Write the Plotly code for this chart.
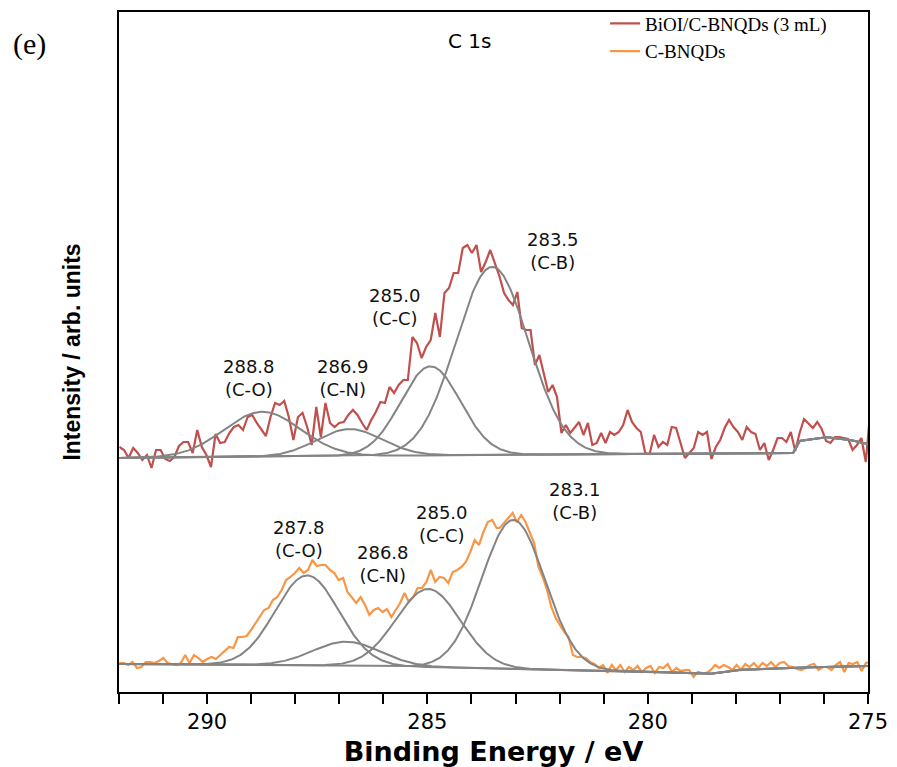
import numpy as np
import plotly.graph_objects as go

# ---------------- data ----------------
# BiOI/C-BNQDs (3 mL) raw C 1s spectrum (arb. units), two read segments
red_seg1 = [244, 241, 233, 243, 238, 231, 236, 223, 241, 241,
            232, 230, 234, 245, 249, 249, 238, 261, 244, 236,
            224, 257, 248, 249, 258, 264, 266, 261, 274, 276,
            268, 261, 255, 274, 288, 286, 290, 274, 251, 274,
            278, 264, 246, 284, 254, 288, 268, 264, 268, 269,
            276, 281, 276, 268, 261, 271, 279, 289, 288, 304,
            298, 306, 311, 311, 354, 348, 333, 344, 351, 378,
            354, 398, 403, 418, 418, 443, 446, 438, 446, 419,
            429, 441, 428]
red_seg2 = [414, 398, 391, 386, 399, 363, 361, 361, 326, 336,
            318, 299, 306, 294, 258, 266, 258, 264, 269, 256,
            268, 246, 248, 258, 248, 259, 256, 259, 266, 281,
            269, 263, 259, 238, 237, 256, 244, 249, 246, 264,
            263, 248, 233, 238, 243, 259, 256, 259, 232, 244,
            251, 263, 271, 264, 259, 251, 264, 259, 257, 241,
            248, 231, 241, 253, 253, 249, 259, 240, 258, 272,
            267, 263, 269, 262, 250, 248, 254, 254, 253, 252,
            241, 246, 253, 229, 279]
red_seg_be = [(291.99, 283.47), (283.36, 274.95)]

# C-BNQDs raw C 1s spectrum (arb. units)
orange_seg1 = [28, 28, 26, 29, 23, 24, 29, 29, 28, 30,
               33, 28, 27, 26, 28, 36, 28, 36, 33, 29,
               32, 34, 32, 36, 39, 44, 43, 54, 54, 55,
               61, 68, 74, 81, 83, 91, 94, 101, 111, 114,
               118, 123, 118, 121, 131, 125, 126, 126, 121, 118,
               111, 113, 99, 93, 88, 94, 86, 76, 81, 83,
               79, 82, 74, 81, 88, 98, 89, 94, 103, 103,
               109, 121, 109, 114, 113, 108, 119, 121, 124, 129,
               139, 151, 146, 159, 169, 171, 163]
orange_seg2 = [163, 168, 173, 178, 169, 176, 169, 159, 148, 124,
               114, 101, 84, 73, 66, 59, 54, 36, 34, 34,
               33, 29, 27, 23, 26, 18, 26, 21, 26, 19,
               24, 21, 25, 19, 23, 25, 18, 24, 23, 27,
               19, 23, 20, 21, 21, 14, 19, 18, 18, 21,
               26, 23, 26, 24, 21, 26, 21, 27, 24, 28,
               23, 28, 25, 29, 24, 28, 29, 25, 24, 22,
               21, 23, 26, 27, 21, 24, 24, 21, 26, 29,
               19, 28, 27, 29, 20, 28, 29]
orange_seg_be = [(291.99, 283.43), (283.36, 274.95)]

# fitted components: peak labels, centres (eV), heights, FWHM (eV)
top_labels = ["288.8<br>(C-O)", "286.9<br>(C-N)", "285.0<br>(C-C)", "283.5<br>(C-B)"]
top_centers = [288.75, 286.77, 284.93, 283.53]
top_heights = [45, 27, 89, 188]
top_fwhm = [2.05, 1.74, 1.59, 1.93]
top_bg_be = [292.0, 284.0, 276.7, 276.55, 276.0, 275.5, 275.0]
top_bg_val = [233, 236, 238, 250, 254, 252, 247]
top_label_be = [289.05, 286.91, 285.73, 282.15]
top_label_val = [313, 313, 384, 440]

bot_labels = ["287.8<br>(C-O)", "286.8<br>(C-N)", "285.0<br>(C-C)", "283.1<br>(C-B)"]
bot_centers = [287.73, 286.84, 284.98, 283.05]
bot_heights = [90, 24, 78, 149]
bot_fwhm = [1.70, 1.80, 1.72, 1.68]
bot_bg_be = [292.0, 286.0, 283.0, 281.0, 279.5, 278.6, 278.0, 277.0, 275.0]
bot_bg_val = [27, 25, 22, 20, 19, 17, 21, 23, 25]
bot_label_be = [287.91, 286.0, 284.67, 281.65]
bot_label_val = [152, 127, 167, 190]

x_ticks = list(range(275, 293))
x_tick_labels = [str(v) if v % 5 == 0 else "" for v in x_ticks]

RED = "#C0504D"
ORANGE = "#F79646"
GRAY = "#848484"


def seg_energy(segs, bounds):
    return np.concatenate([np.linspace(b[0], b[1], len(s)) for s, b in zip(segs, bounds)])


red_be = seg_energy([red_seg1, red_seg2], red_seg_be)
red_val = np.array(red_seg1 + red_seg2)
orange_be = seg_energy([orange_seg1, orange_seg2], orange_seg_be)
orange_val = np.array(orange_seg1 + orange_seg2)

fig = go.Figure()
fig.add_trace(go.Scatter(x=red_be, y=red_val, mode="lines",
                         line=dict(color=RED, width=2.2),
                         name="BiOI/C-BNQDs (3 mL)"))
fig.add_trace(go.Scatter(x=orange_be, y=orange_val, mode="lines",
                         line=dict(color=ORANGE, width=2.2),
                         name="C-BNQDs"))

grid = np.linspace(292, 275, 681)


def add_components(centers, heights, fwhm, bg_be, bg_val):
    bg = np.interp(grid, bg_be[::-1], bg_val[::-1])
    for c, h, w in zip(centers, heights, fwhm):
        s = w / 2.3548
        y = bg + h * np.exp(-0.5 * ((grid - c) / s) ** 2)
        fig.add_trace(go.Scatter(x=grid, y=y, mode="lines",
                                 line=dict(color=GRAY, width=2),
                                 showlegend=False, hoverinfo="skip"))


add_components(top_centers, top_heights, top_fwhm, top_bg_be, top_bg_val)
add_components(bot_centers, bot_heights, bot_fwhm, bot_bg_be, bot_bg_val)

LABEL_FONT = dict(family="DejaVu Sans", size=18, color="#111111")
annotations = []
for t, xb, yv in list(zip(top_labels, top_label_be, top_label_val)) + \
        list(zip(bot_labels, bot_label_be, bot_label_val)):
    annotations.append(dict(x=xb, y=yv, xref="x", yref="y", text=t, showarrow=False,
                            font=LABEL_FONT, xanchor="center", yanchor="middle"))
annotations.append(dict(x=-0.1195, y=0.953, xref="paper", yref="paper", text="(e)",
                        showarrow=False, font=dict(family="Liberation Serif", size=30, color="black"),
                        xanchor="center", yanchor="middle"))
annotations.append(dict(x=0.4686, y=0.958, xref="paper", yref="paper", text="C 1s",
                        showarrow=False, font=dict(family="DejaVu Sans", size=20, color="black"),
                        xanchor="center", yanchor="middle"))

fig.update_layout(
    width=897, height=767,
    margin=dict(l=119, r=29, t=12, b=75, autoexpand=False),
    paper_bgcolor="white", plot_bgcolor="white",
    showlegend=True,
    legend=dict(x=0.649, y=1.011, xanchor="left", yanchor="top",
                bgcolor="rgba(0,0,0,0)",
                font=dict(family="Liberation Serif", size=19, color="black"),
                tracegroupgap=0),
    annotations=annotations,
)
fig.update_xaxes(range=[292, 275], tickmode="array", tickvals=x_ticks, ticktext=x_tick_labels,
                 ticks="outside", ticklen=10, tickwidth=1.5, tickcolor="black",
                 showline=True, linecolor="black", linewidth=2, mirror=True,
                 showgrid=False, zeroline=False, automargin=False,
                 tickfont=dict(family="DejaVu Sans", size=21, color="black"),
                 title=dict(text="<b>Binding Energy / eV</b>", standoff=11,
                            font=dict(family="DejaVu Sans", size=27, color="black")))
fig.update_yaxes(range=[-1, 679], showticklabels=False, ticks="",
                 showline=True, linecolor="black", linewidth=2, mirror=True,
                 showgrid=False, zeroline=False, automargin=False,
                 title=dict(text="<b>Intensity / arb. units</b>", standoff=30,
                            font=dict(family="Liberation Sans", size=23, color="black")))

fig.write_html("out.html")
